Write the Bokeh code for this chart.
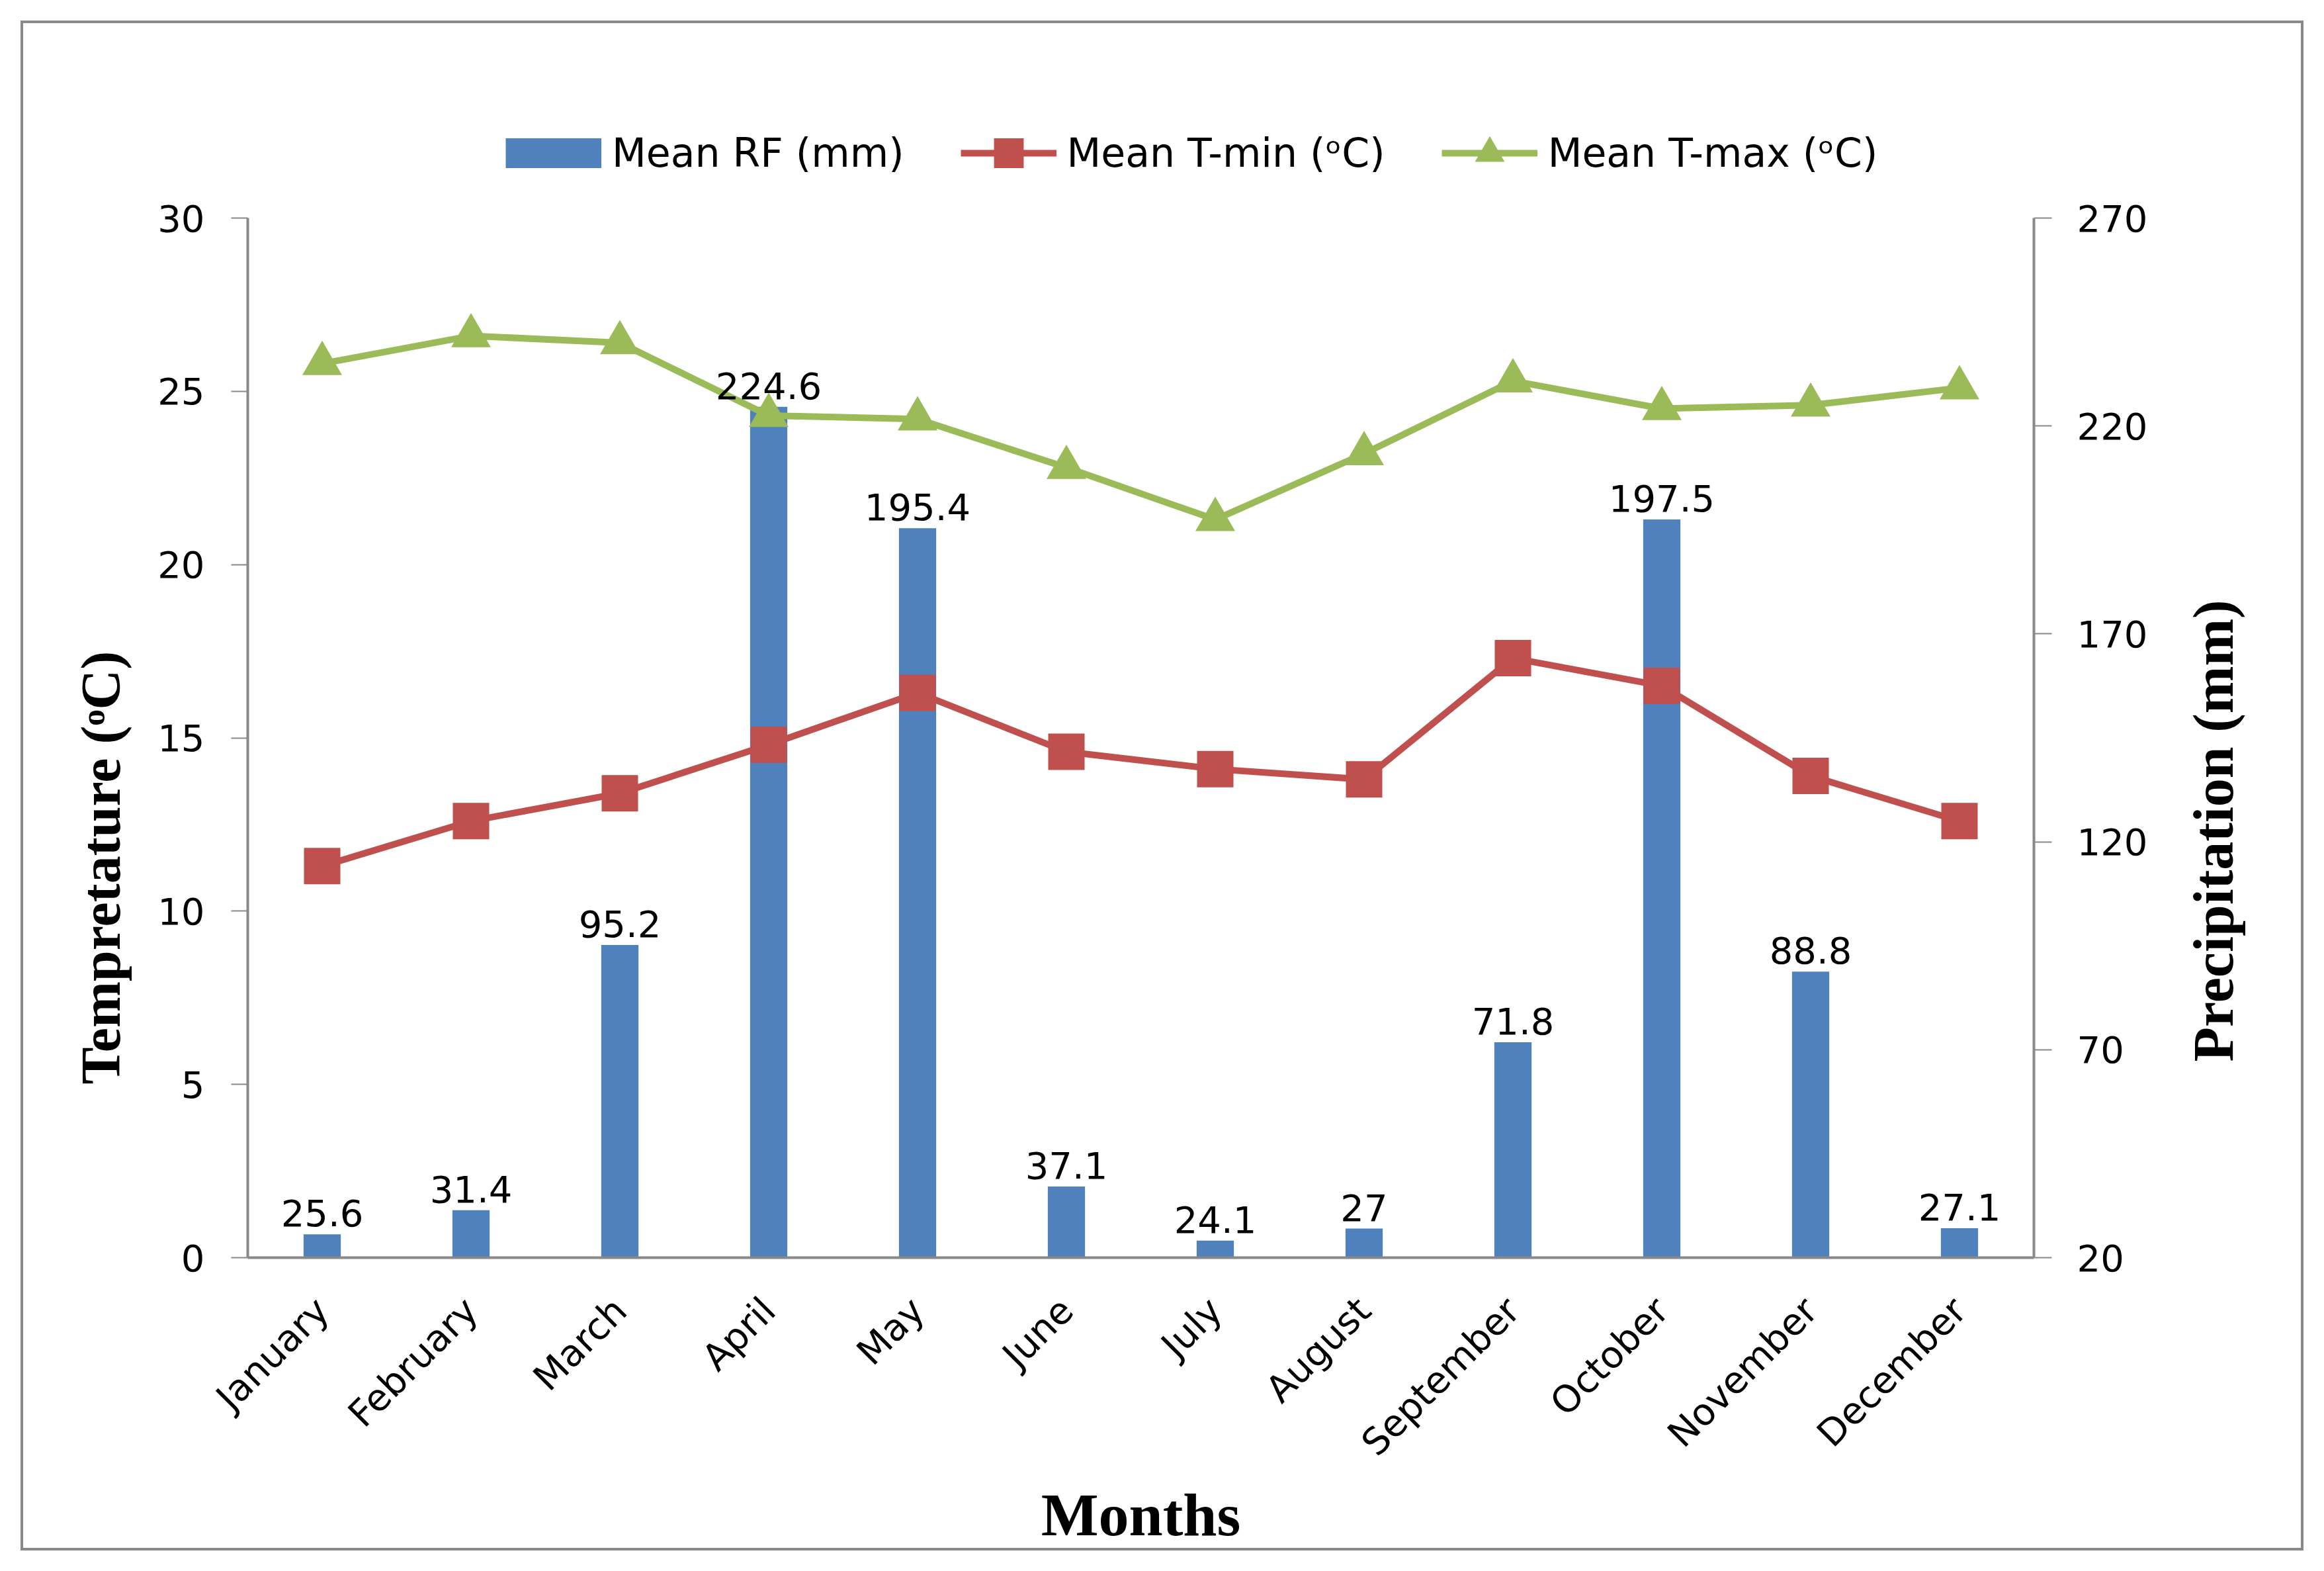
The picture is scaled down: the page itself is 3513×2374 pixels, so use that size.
from math import pi
from bokeh.plotting import figure
from bokeh.layouts import column, row
from bokeh.models import (Range1d, LinearAxis, FixedTicker, Legend, LegendItem,
                          Label, Title, ColumnDataSource, FactorRange)
from bokeh.core.properties import value
from bokeh.embed import file_html
from bokeh.resources import INLINE

# ---------------- data ----------------
months = ["January", "February", "March", "April", "May", "June", "July",
          "August", "September", "October", "November", "December"]
rainfall = [25.6, 31.4, 95.2, 224.6, 195.4, 37.1, 24.1, 27.0, 71.8, 197.5, 88.8, 27.1]
tmin = [11.3, 12.6, 13.4, 14.8, 16.3, 14.6, 14.1, 13.8, 17.3, 16.5, 13.9, 12.6]
tmax = [25.8, 26.6, 26.4, 24.3, 24.2, 22.8, 21.3, 23.2, 25.3, 24.5, 24.6, 25.1]
temp_ticks = [0, 5, 10, 15, 20, 25, 30]
rf_ticks = [20, 70, 120, 170, 220, 270]
rf_labels = [f"{v:g}" for v in rainfall]
series_names = ["Mean RF (mm)", "Mean T-min (ᵒC)", "Mean T-max (ᵒC)"]

BLUE, RED, GREEN, GRAY = "#4F81BD", "#C0504D", "#9BBB59", "#898989"
SANS = "DejaVu Sans"
SERIF = "Liberation Serif"

W, H = 3513, 2374
TOP_H = 270          # strip holding the legend
RIGHT_W = 243        # strip holding the right axis title
MAIN_W, MAIN_H = W - RIGHT_W, H - TOP_H


def bare_figure(w, h, xr, yr):
    f = figure(width=w, height=h, x_range=xr, y_range=yr,
               x_axis_type=None, y_axis_type=None,
               output_backend="svg", toolbar_location=None, min_border=0)
    f.title.visible = False
    f.grid.visible = False
    f.outline_line_color = None
    f.background_fill_color = None
    f.border_fill_color = None
    return f


# ---------------- main chart ----------------
p = figure(width=MAIN_W, height=MAIN_H,
           x_range=FactorRange(factors=months),
           y_range=Range1d(0, 30),
           output_backend="svg", toolbar_location=None,
           min_border_left=374, min_border_right=MAIN_W - 3074,
           min_border_top=329 - TOP_H, min_border_bottom=474)
p.title.visible = False
p.extra_y_ranges = {"rf": Range1d(20, 270)}
p.background_fill_color = None
p.border_fill_color = None
p.outline_line_color = None
p.xgrid.visible = False
p.ygrid.visible = False

src = ColumnDataSource(dict(month=months, rf=rainfall, lab=rf_labels,
                            tmin=tmin, tmax=tmax))

p.vbar(x="month", top="rf", bottom=20, width=0.25, source=src,
       y_range_name="rf", fill_color=BLUE, line_color=None)

p.line("month", "tmin", source=src, line_color=RED, line_width=10)
p.scatter("month", "tmin", source=src, marker="square", size=55,
          fill_color=RED, line_color=None)
p.line("month", "tmax", source=src, line_color=GREEN, line_width=10)
p.scatter("month", "tmax", source=src, marker="triangle", size=60,
          fill_color=GREEN, line_color=None)

p.text(x="month", y="rf", text="lab", source=src, y_range_name="rf",
       text_align="center", text_baseline="bottom", y_offset=-12,
       text_font=value(SANS), text_font_size="56px", text_color="black")


def style_axis(ax):
    ax.axis_line_color = GRAY
    ax.axis_line_width = 4
    ax.major_tick_line_color = GRAY
    ax.major_tick_line_width = 2
    ax.minor_tick_line_color = None
    ax.major_tick_in = 0
    ax.major_label_text_font = SANS
    ax.major_label_text_font_size = "56px"
    ax.major_label_text_color = "black"


left = p.left[0]
style_axis(left)
left.ticker = FixedTicker(ticks=temp_ticks)
left.major_tick_out = 25
left.major_label_standoff = 40

right = LinearAxis(y_range_name="rf", ticker=FixedTicker(ticks=rf_ticks))
style_axis(right)
right.major_tick_out = 27
right.major_label_standoff = 38
p.add_layout(right, "right")

bx = p.below[0]
style_axis(bx)
bx.major_tick_line_color = None
bx.major_tick_out = 0
bx.major_label_orientation = pi / 4
bx.major_label_standoff = 70
bx.axis_label = "Months"
bx.axis_label_text_font = SERIF
bx.axis_label_text_font_style = "bold"
bx.axis_label_text_font_size = "92px"
bx.axis_label_text_color = "black"
bx.axis_label_standoff = 0

p.add_layout(Title(text="Tempretature (ᵒC)", align="left", offset=262,
                   standoff=74, text_font=SERIF, text_font_style="bold",
                   text_font_size="84px", text_color="black"), "left")

# ---------------- right strip: precipitation title ----------------
rs = bare_figure(RIGHT_W, MAIN_H, Range1d(0, RIGHT_W), Range1d(0, MAIN_H))
rs.add_layout(Label(x=3345 - MAIN_W, y=864,
                    text="Precipitation (mm)", angle=pi / 2,
                    text_align="center", text_baseline="middle",
                    text_font=SERIF, text_font_style="bold",
                    text_font_size="86px", text_color="black"))

# ---------------- top strip: legend ----------------
ts = bare_figure(W, TOP_H, Range1d(0, W), Range1d(0, TOP_H))
off = dict(x=[-1000, -999], y=[-1000, -999])
g_rf = ts.line(line_color=BLUE, line_width=45, **off)
g_minl = ts.line(line_color=RED, line_width=10, **off)
g_mins = ts.scatter(marker="square", size=55, fill_color=RED, line_color=None, **off)
g_maxl = ts.line(line_color=GREEN, line_width=10, **off)
g_maxs = ts.scatter(marker="triangle", size=60, fill_color=GREEN, line_color=None, **off)
legend = Legend(items=[LegendItem(label=series_names[0], renderers=[g_rf]),
                       LegendItem(label=series_names[1], renderers=[g_minl, g_mins]),
                       LegendItem(label=series_names[2], renderers=[g_maxl, g_maxs])],
                orientation="horizontal", location=(764, TOP_H - 175 - 112),
                glyph_width=145, glyph_height=112, label_height=112,
                label_standoff=16, spacing=85, padding=0, margin=0,
                border_line_color=None, background_fill_alpha=0,
                label_text_font=SANS, label_text_font_size="60px",
                label_text_color="black")
ts.add_layout(legend, "center")

layout = column(ts, row(p, rs, spacing=0), spacing=0)
layout.styles = {"outline": "4px solid #898989", "outline-offset": "-35px"}

open("out.html", "w").write(file_html(layout, INLINE))
